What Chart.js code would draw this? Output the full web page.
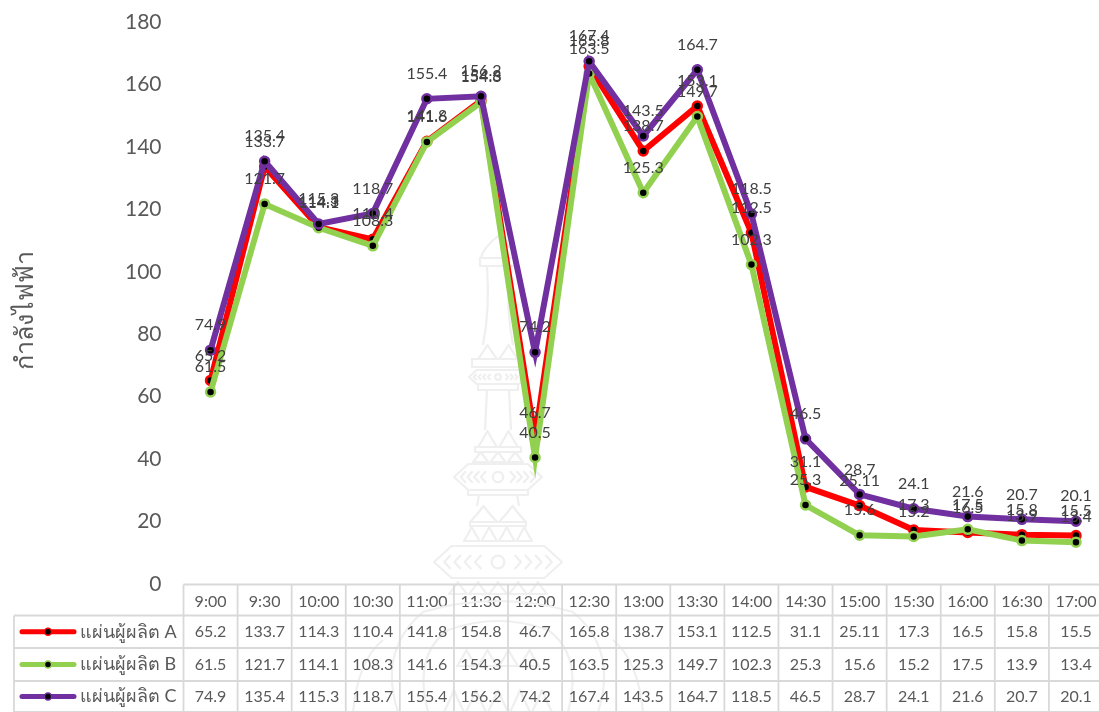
<!DOCTYPE html>
<html>
<head>
<meta charset="utf-8">
<style>
  html, body { margin: 0; padding: 0; background: #fff; overflow: hidden; }
  canvas { display: block; }
</style>
<script src="https://cdn.jsdelivr.net/npm/chart.js@4"></script>
</head>
<body>
<canvas id="powerChart" width="1103" height="712"></canvas>
<script>
const times = ['9:00','9:30','10:00','10:30','11:00','11:30','12:00','12:30','13:00','13:30','14:00','14:30','15:00','15:30','16:00','16:30','17:00'];
const panelA = [65.2,133.7,114.3,110.4,141.8,154.8,46.7,165.8,138.7,153.1,112.5,31.1,25.11,17.3,16.5,15.8,15.5];
const panelB = [61.5,121.7,114.1,108.3,141.6,154.3,40.5,163.5,125.3,149.7,102.3,25.3,15.6,15.2,17.5,13.9,13.4];
const panelC = [74.9,135.4,115.3,118.7,155.4,156.2,74.2,167.4,143.5,164.7,118.5,46.5,28.7,24.1,21.6,20.7,20.1];
const seriesNames = ['แผ่นผู้ผลิต A','แผ่นผู้ผลิต B','แผ่นผู้ผลิต C'];
const seriesColors = ['#FF0000','#92D050','#7030A0'];
const axisTitle = 'กำลังไฟฟ้า';

const FONT = 'Lato, "Noto Sans", sans-serif';
const TEXT_COLOR = '#595959';
const GRID_COLOR = '#D9D9D9';
const rowLines = [584.5, 615.5, 648, 681, 712];

function makeDataset(i, values) {
  return {
    label: seriesNames[i],
    data: values,
    borderColor: seriesColors[i],
    borderWidth: 6,
    tension: 0,
    pointRadius: 4.5,
    pointBorderWidth: 2.5,
    pointBackgroundColor: '#000',
    pointBorderColor: seriesColors[i],
    order: 3 - i,
    clip: false
  };
}

// faint crest behind the plot
function tier(ctx, cx, y, w, h) {
  ctx.strokeRect(cx - w / 2, y, w, h);
}
function spikes(ctx, cx, y, w, h, n) {
  const step = w / n;
  for (let i = 0; i < n; i++) {
    const x = cx - w / 2 + i * step;
    ctx.beginPath();
    ctx.moveTo(x + 1, y + h);
    ctx.quadraticCurveTo(x + step * 0.3, y + h * 0.5, x + step / 2, y);
    ctx.quadraticCurveTo(x + step * 0.7, y + h * 0.5, x + step - 1, y + h);
    ctx.closePath();
    ctx.stroke();
  }
}
function wideBand(ctx, cx, y, w, h) {
  ctx.beginPath();
  ctx.moveTo(cx - w / 2, y + h / 2);
  ctx.lineTo(cx - w / 2 + h * 0.55, y);
  ctx.lineTo(cx + w / 2 - h * 0.55, y);
  ctx.lineTo(cx + w / 2, y + h / 2);
  ctx.lineTo(cx + w / 2 - h * 0.55, y + h);
  ctx.lineTo(cx - w / 2 + h * 0.55, y + h);
  ctx.closePath();
  ctx.stroke();
  ctx.beginPath();
  ctx.arc(cx, y + h / 2, h * 0.2, 0, Math.PI * 2);
  ctx.stroke();
  const n = 4;
  for (let i = 1; i <= n; i++) {
    const dx = i * (w / 2 - h * 0.4) / (n + 1) + h * 0.2;
    [-1, 1].forEach(side => {
      ctx.beginPath();
      ctx.moveTo(cx + side * dx, y + h * 0.28);
      ctx.lineTo(cx + side * (dx + h * 0.2), y + h / 2);
      ctx.lineTo(cx + side * dx, y + h * 0.72);
      ctx.stroke();
    });
  }
}
const crestPlugin = {
  id: 'crest',
  beforeDatasetsDraw(chart) {
    const ctx = chart.ctx;
    const cx = 498;
    ctx.save();
    ctx.strokeStyle = '#EFEFEF';
    ctx.lineWidth = 2.2;
    ctx.lineJoin = 'round';
    // spire
    ctx.beginPath();
    ctx.moveTo(cx, 236);
    ctx.quadraticCurveTo(cx - 15, 248, cx - 17, 258);
    ctx.lineTo(cx + 17, 258);
    ctx.quadraticCurveTo(cx + 15, 248, cx, 236);
    ctx.stroke();
    tier(ctx, cx, 258, 36, 8);
    ctx.beginPath();
    ctx.moveTo(cx - 11, 266);
    ctx.quadraticCurveTo(cx - 8, 310, cx - 15, 345);
    ctx.moveTo(cx + 11, 266);
    ctx.quadraticCurveTo(cx + 8, 310, cx + 15, 345);
    ctx.stroke();
    spikes(ctx, cx, 345, 42, 14, 2);
    tier(ctx, cx, 359, 52, 8);
    wideBand(ctx, cx, 370, 58, 14);
    tier(ctx, cx, 384, 40, 6);
    ctx.beginPath();
    ctx.moveTo(cx - 11, 390);
    ctx.lineTo(cx - 13, 430);
    ctx.moveTo(cx + 11, 390);
    ctx.lineTo(cx + 13, 430);
    ctx.stroke();
    spikes(ctx, cx, 431, 42, 16, 2);
    tier(ctx, cx, 447, 46, 5);
    spikes(ctx, cx, 452, 52, 10, 3);
    wideBand(ctx, cx, 464, 88, 26);
    tier(ctx, cx, 490, 60, 5);
    ctx.beginPath();
    ctx.moveTo(cx - 19, 495);
    ctx.lineTo(cx - 21, 506);
    ctx.moveTo(cx + 19, 495);
    ctx.lineTo(cx + 21, 506);
    ctx.stroke();
    spikes(ctx, cx, 506, 58, 16, 2);
    tier(ctx, cx, 522, 56, 4);
    spikes(ctx, cx, 527, 70, 14, 4);
    wideBand(ctx, cx, 546, 128, 32);
    spikes(ctx, cx, 582, 100, 12, 5);
    // lower flourishes run under the table
    ctx.beginPath();
    ctx.moveTo(cx - 100, 712);
    ctx.quadraticCurveTo(cx - 120, 650, cx - 75, 612);
    ctx.quadraticCurveTo(cx, 590, cx + 75, 612);
    ctx.quadraticCurveTo(cx + 120, 650, cx + 100, 712);
    ctx.moveTo(cx - 70, 712);
    ctx.quadraticCurveTo(cx - 85, 655, cx - 50, 630);
    ctx.quadraticCurveTo(cx, 612, cx + 50, 630);
    ctx.quadraticCurveTo(cx + 85, 655, cx + 70, 712);
    ctx.moveTo(cx - 145, 712);
    ctx.quadraticCurveTo(cx - 140, 660, cx - 115, 640);
    ctx.moveTo(cx + 145, 712);
    ctx.quadraticCurveTo(cx + 140, 660, cx + 115, 640);
    ctx.stroke();
    spikes(ctx, cx, 650, 84, 16, 4);
    spikes(ctx, cx, 690, 110, 22, 5);
    ctx.restore();
  }
};

// values above each marker
const valueLabels = {
  id: 'valueLabels',
  afterDatasetsDraw(chart) {
    const ctx = chart.ctx;
    ctx.save();
    ctx.font = '16px ' + FONT;
    ctx.fillStyle = '#404040';
    ctx.textAlign = 'center';
    ctx.textBaseline = 'middle';
    chart.data.datasets.forEach((ds, i) => {
      chart.getDatasetMeta(i).data.forEach((pt, j) => {
        ctx.fillText(String(ds.data[j]), pt.x, pt.y - 25);
      });
    });
    ctx.restore();
  }
};

// data table under the x axis, the axis ticks fill its header row
const dataTable = {
  id: 'dataTable',
  afterDraw(chart) {
    const ctx = chart.ctx;
    const xs = chart.scales.x;
    const step = xs.getPixelForValue(1) - xs.getPixelForValue(0);
    const left = xs.getPixelForValue(0) - step / 2;
    ctx.save();
    ctx.strokeStyle = GRID_COLOR;
    ctx.lineWidth = 1.8;
    rowLines.forEach((y, r) => {
      ctx.beginPath();
      ctx.moveTo(r === 0 ? left : 14, y);
      ctx.lineTo(chart.width, y);
      ctx.stroke();
    });
    for (let c = 0; c <= times.length; c++) {
      const x = left + c * step;
      ctx.beginPath();
      ctx.moveTo(x, rowLines[0]);
      ctx.lineTo(x, 712);
      ctx.stroke();
    }
    ctx.beginPath();
    ctx.moveTo(14, rowLines[1]);
    ctx.lineTo(14, 712);
    ctx.stroke();

    ctx.textBaseline = 'middle';
    chart.data.datasets.forEach((ds, r) => {
      const yMid = (rowLines[r + 1] + rowLines[r + 2]) / 2;
      // legend key
      ctx.strokeStyle = seriesColors[r];
      ctx.lineWidth = 5;
      ctx.lineCap = 'round';
      ctx.beginPath();
      ctx.moveTo(22, yMid);
      ctx.lineTo(74, yMid);
      ctx.stroke();
      ctx.beginPath();
      ctx.arc(48, yMid, 3.5, 0, Math.PI * 2);
      ctx.fillStyle = '#000';
      ctx.fill();
      ctx.lineWidth = 1.5;
      ctx.stroke();
      // row name and values
      ctx.fillStyle = TEXT_COLOR;
      ctx.font = '18px ' + FONT;
      ctx.textAlign = 'left';
      ctx.fillText(ds.label, 80, yMid);
      ctx.font = '16px ' + FONT;
      ctx.textAlign = 'center';
      ds.data.forEach((v, c) => {
        ctx.fillText(String(v), xs.getPixelForValue(c), yMid);
      });
    });

    // y axis title
    ctx.translate(25, 310);
    ctx.rotate(-Math.PI / 2);
    ctx.font = '25px ' + FONT;
    ctx.textAlign = 'center';
    ctx.fillStyle = TEXT_COLOR;
    ctx.fillText(axisTitle, 0, 0);
    ctx.restore();
  }
};

new Chart(document.getElementById('powerChart'), {
  type: 'line',
  data: {
    labels: times,
    datasets: [makeDataset(0, panelA), makeDataset(1, panelB), makeDataset(2, panelC)]
  },
  options: {
    responsive: false,
    animation: false,
    layout: { autoPadding: false, padding: { top: 22, left: 0, right: 0, bottom: 0 } },
    plugins: { legend: { display: false }, tooltip: { enabled: false } },
    scales: {
      x: {
        offset: true,
        grid: { display: false },
        border: { display: false },
        afterFit(scale) { scale.height = 128; },
        ticks: {
          color: TEXT_COLOR,
          font: { family: FONT, size: 16 },
          maxRotation: 0,
          autoSkip: false,
          padding: 0
        }
      },
      y: {
        min: 0,
        max: 180,
        // keep the tick label half-height from pushing the plot top down
        grace: 0,
        grid: { display: false },
        border: { display: false },
        afterFit(scale) {
          scale.width = 183.5;
          scale.paddingTop = 0;
          scale.paddingBottom = 0;
        },
        ticks: {
          stepSize: 20,
          color: TEXT_COLOR,
          font: { family: FONT, size: 21 },
          padding: 14
        }
      }
    }
  },
  plugins: [crestPlugin, valueLabels, dataTable]
});
</script>
</body>
</html>
